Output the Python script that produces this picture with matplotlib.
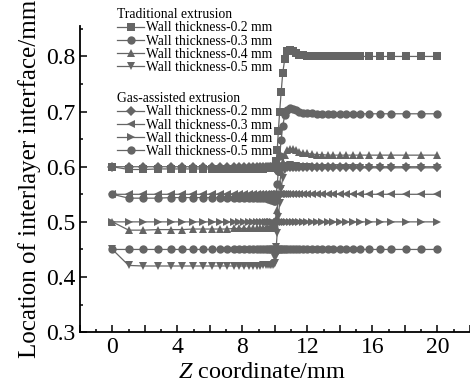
import matplotlib
matplotlib.use("Agg")
import matplotlib.pyplot as plt
from matplotlib.ticker import MultipleLocator, FuncFormatter

plt.rcParams['font.family'] = ['Liberation Serif', 'DejaVu Serif']
plt.rcParams['mathtext.fontset'] = 'custom'
plt.rcParams['mathtext.it'] = 'Liberation Serif:italic'
plt.rcParams['mathtext.rm'] = 'Liberation Serif'

# z coordinate of the mesh points (mm)
z = [0, 1.0, 1.9, 2.8, 3.6, 4.3, 4.95, 5.55, 6.1, 6.6,
     7.05, 7.45, 7.8, 8.1, 8.4, 8.65, 8.88, 9.08, 9.26, 9.42,
     9.56, 9.68, 9.78, 9.86, 9.93, 9.98, 10.03, 10.08, 10.14, 10.21,
     10.29, 10.38, 10.48, 10.6, 10.74, 10.9, 11.08, 11.28, 11.5, 11.74,
     12.0, 12.28, 12.58, 12.9, 13.24, 13.6, 13.98, 14.38, 14.8, 15.24,
     15.8, 16.44, 17.14, 18.06, 19.0, 19.97]

# traditional extrusion
trad_02 = [0.600, 0.595, 0.595, 0.596, 0.596, 0.596, 0.596, 0.596, 0.596, 0.596,
           0.596, 0.596, 0.596, 0.596, 0.596, 0.596, 0.596, 0.596, 0.596, 0.597,
           0.597, 0.597, 0.597, 0.598, 0.598, 0.599, 0.600, 0.610, 0.630, 0.665,
           0.700, 0.735, 0.770, 0.795, 0.810, 0.812, 0.809, 0.806, 0.803, 0.802,
           0.801, 0.801, 0.800, 0.800, 0.800, 0.800, 0.800, 0.800, 0.800, 0.800,
           0.800, 0.800, 0.800, 0.800, 0.800, 0.800]
trad_03 = [0.550, 0.543, 0.543, 0.543, 0.544, 0.544, 0.544, 0.544, 0.544, 0.544,
           0.544, 0.544, 0.544, 0.544, 0.544, 0.544, 0.544, 0.544, 0.543, 0.543,
           0.542, 0.541, 0.540, 0.539, 0.538, 0.538, 0.540, 0.550, 0.568, 0.592,
           0.620, 0.648, 0.674, 0.693, 0.703, 0.706, 0.705, 0.702, 0.700, 0.698,
           0.697, 0.697, 0.696, 0.696, 0.696, 0.696, 0.696, 0.696, 0.696, 0.696,
           0.696, 0.696, 0.696, 0.696, 0.696, 0.696]
trad_04 = [0.500, 0.485, 0.485, 0.486, 0.486, 0.486, 0.487, 0.487, 0.487, 0.487,
           0.487, 0.488, 0.488, 0.488, 0.488, 0.488, 0.488, 0.488, 0.489, 0.489,
           0.489, 0.489, 0.489, 0.489, 0.489, 0.490, 0.494, 0.505, 0.522, 0.545,
           0.568, 0.590, 0.608, 0.622, 0.630, 0.633, 0.632, 0.630, 0.627, 0.625,
           0.624, 0.623, 0.622, 0.622, 0.621, 0.621, 0.621, 0.621, 0.621, 0.621,
           0.621, 0.621, 0.621, 0.621, 0.621, 0.621]
trad_05 = [0.450, 0.421, 0.420, 0.420, 0.420, 0.420, 0.420, 0.420, 0.420, 0.420,
           0.420, 0.420, 0.420, 0.420, 0.420, 0.420, 0.420, 0.420, 0.421, 0.421,
           0.421, 0.421, 0.421, 0.422, 0.423, 0.426, 0.435, 0.455, 0.480, 0.508,
           0.535, 0.560, 0.580, 0.594, 0.601, 0.603, 0.602, 0.601, 0.600, 0.599,
           0.599, 0.598, 0.598, 0.598, 0.598, 0.598, 0.598, 0.598, 0.598, 0.598,
           0.598, 0.598, 0.598, 0.598, 0.598, 0.598]

# gas-assisted extrusion
gas_02 = [0.600, 0.600, 0.600, 0.600, 0.600, 0.600, 0.600, 0.600, 0.600, 0.600,
          0.600, 0.600, 0.600, 0.600, 0.600, 0.600, 0.600, 0.600, 0.600, 0.600,
          0.600, 0.600, 0.600, 0.600, 0.599, 0.598, 0.598, 0.599, 0.600, 0.600,
          0.600, 0.600, 0.600, 0.600, 0.600, 0.600, 0.600, 0.600, 0.600, 0.600,
          0.600, 0.600, 0.600, 0.600, 0.600, 0.600, 0.600, 0.600, 0.600, 0.600,
          0.600, 0.600, 0.600, 0.600, 0.600, 0.600]
gas_03 = [0.550, 0.550, 0.550, 0.550, 0.550, 0.550, 0.550, 0.550, 0.550, 0.550,
          0.550, 0.550, 0.550, 0.550, 0.550, 0.550, 0.550, 0.550, 0.550, 0.550,
          0.550, 0.550, 0.550, 0.549, 0.548, 0.547, 0.547, 0.548, 0.549, 0.550,
          0.550, 0.550, 0.550, 0.550, 0.550, 0.550, 0.550, 0.550, 0.550, 0.550,
          0.550, 0.550, 0.550, 0.550, 0.550, 0.550, 0.550, 0.550, 0.550, 0.550,
          0.550, 0.550, 0.550, 0.550, 0.550, 0.550]
gas_04 = [0.500, 0.500, 0.500, 0.500, 0.500, 0.500, 0.500, 0.500, 0.500, 0.500,
          0.500, 0.500, 0.500, 0.500, 0.500, 0.500, 0.500, 0.500, 0.500, 0.500,
          0.500, 0.500, 0.500, 0.499, 0.498, 0.497, 0.497, 0.498, 0.499, 0.500,
          0.500, 0.500, 0.500, 0.500, 0.500, 0.500, 0.500, 0.500, 0.500, 0.500,
          0.500, 0.500, 0.500, 0.500, 0.500, 0.500, 0.500, 0.500, 0.500, 0.500,
          0.500, 0.500, 0.500, 0.500, 0.500, 0.500]
gas_05 = [0.450, 0.450, 0.450, 0.450, 0.450, 0.450, 0.450, 0.450, 0.450, 0.450,
          0.450, 0.450, 0.450, 0.450, 0.450, 0.450, 0.450, 0.450, 0.450, 0.450,
          0.450, 0.450, 0.450, 0.450, 0.449, 0.448, 0.448, 0.449, 0.450, 0.450,
          0.450, 0.450, 0.450, 0.450, 0.450, 0.450, 0.450, 0.450, 0.450, 0.450,
          0.450, 0.450, 0.450, 0.450, 0.450, 0.450, 0.450, 0.450, 0.450, 0.450,
          0.450, 0.450, 0.450, 0.450, 0.450, 0.450]

labels = ['Wall thickness-0.2 mm', 'Wall thickness-0.3 mm',
          'Wall thickness-0.4 mm', 'Wall thickness-0.5 mm']
trad = [trad_02, trad_03, trad_04, trad_05]
gas = [gas_02, gas_03, gas_04, gas_05]
trad_markers = ['s', 'o', '^', 'v']
gas_markers = ['D', '<', '>', 'o']

col = '#656565'
ms = 6

fig = plt.figure(figsize=(4.7, 3.84), dpi=100)
ax = fig.add_axes([0.170, 0.135, 0.830, 0.797])

h_trad, h_gas = [], []
for y, m in zip(gas, gas_markers):
    s = ms * 0.8 if m == 'D' else ms
    l, = ax.plot(z, y, color=col, marker=m, markersize=s, lw=0.9, mew=0)
    h_gas.append(l)
for y, m in zip(trad, trad_markers):
    l, = ax.plot(z, y, color=col, marker=m, markersize=ms, lw=0.9, mew=0)
    h_trad.append(l)

ax.set_xlim(-2, 22)
ax.set_ylim(0.3, 0.855)
ax.xaxis.set_major_locator(MultipleLocator(2))
ax.xaxis.set_minor_locator(MultipleLocator(1))
ax.xaxis.set_major_formatter(FuncFormatter(lambda v, p: '%d' % v if round(v) % 4 == 0 else ''))
ax.yaxis.set_major_locator(MultipleLocator(0.1))
ax.yaxis.set_minor_locator(MultipleLocator(0.05))
ax.yaxis.set_major_formatter(FuncFormatter(lambda v, p: '%.1f' % v))
ax.tick_params(which='major', direction='in', length=5, width=1.1, labelsize=17)
ax.tick_params(which='minor', direction='in', length=2.5, width=1.1)
ax.spines['top'].set_visible(False)
ax.spines['right'].set_visible(False)
ax.spines['left'].set_linewidth(1.3)
ax.spines['bottom'].set_linewidth(1.3)

ax.set_xlabel(r'$\mathit{Z}$ coordinate/mm', fontsize=17.5, labelpad=0)
ax.xaxis.set_label_coords(0.467, -0.097)
ax.set_ylabel('Location of interlayer interface/mm', fontsize=18, labelpad=3)

leg_kw = dict(loc='upper left', frameon=False, fontsize=9.8, title_fontsize=9.8,
              borderpad=0, labelspacing=0.02, handlelength=2.0, handletextpad=0.15,
              alignment='left', borderaxespad=0)
leg1 = fig.legend(h_trad, labels, title='Traditional extrusion',
                  bbox_to_anchor=(117 / 470, 1 - 8 / 384), **leg_kw)
leg2 = fig.legend(h_gas, labels, title='Gas-assisted extrusion',
                  bbox_to_anchor=(117 / 470, 1 - 92 / 384), **leg_kw)

fig.savefig('out.png', dpi=100)
